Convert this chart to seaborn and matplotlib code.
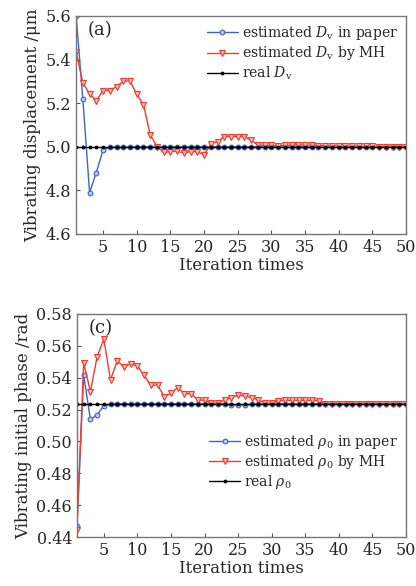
import numpy as np
import pandas as pd
import matplotlib
matplotlib.use("Agg")
import matplotlib.pyplot as plt
import seaborn as sns

iters = list(range(1, 51))

dv_paper = [5.600, 5.218, 4.790, 4.882, 4.985, 4.997, 4.999, 4.998, 4.999, 5.000,
            4.999, 5.000, 4.999, 5.000, 5.000, 5.000, 4.999, 5.000, 5.000, 5.000,
            5.000, 5.000, 5.000, 5.000, 5.000, 5.000, 5.000, 5.000, 5.000, 5.000,
            5.000, 4.999, 5.000, 5.000, 5.000, 4.999, 5.000, 5.000, 5.000, 5.000,
            5.000, 5.000, 5.000, 5.000, 5.000, 5.000, 5.000, 5.000, 5.000, 5.000]
dv_mh = [5.436, 5.294, 5.243, 5.212, 5.258, 5.258, 5.276, 5.300, 5.303, 5.241,
         5.194, 5.056, 5.001, 4.974, 4.978, 4.980, 4.971, 4.978, 4.978, 4.963,
         5.012, 5.024, 5.047, 5.047, 5.047, 5.047, 5.029, 5.009, 5.006, 5.006,
         5.005, 5.007, 5.008, 5.008, 5.008, 5.007, 5.005, 5.004, 5.004, 5.003,
         5.003, 5.003, 5.002, 5.002, 5.002, 5.001, 5.001, 5.001, 5.001, 5.001]
dv_real = [5.0] * 50

rho_paper = [0.4471, 0.5417, 0.5138, 0.5167, 0.5224, 0.5232, 0.5236, 0.5236, 0.5236, 0.5236,
             0.5236, 0.5236, 0.5236, 0.5236, 0.5236, 0.5236, 0.5236, 0.5236, 0.5236, 0.5236,
             0.5236, 0.5236, 0.5234, 0.5230, 0.5229, 0.5230, 0.5232, 0.5235, 0.5236, 0.5236,
             0.5236, 0.5236, 0.5236, 0.5236, 0.5236, 0.5236, 0.5236, 0.5236, 0.5236, 0.5236,
             0.5236, 0.5236, 0.5236, 0.5236, 0.5236, 0.5236, 0.5236, 0.5236, 0.5236, 0.5236]
rho_mh = [0.4444, 0.5495, 0.5312, 0.5531, 0.5642, 0.5386, 0.5506, 0.5468, 0.5487, 0.5474,
          0.5415, 0.5352, 0.5354, 0.5281, 0.5302, 0.5338, 0.5300, 0.5300, 0.5260, 0.5258,
          0.5240, 0.5240, 0.5260, 0.5275, 0.5290, 0.5285, 0.5275, 0.5260, 0.5240, 0.5240,
          0.5255, 0.5258, 0.5258, 0.5258, 0.5258, 0.5258, 0.5256, 0.5238, 0.5238, 0.5237,
          0.5237, 0.5237, 0.5236, 0.5236, 0.5236, 0.5236, 0.5236, 0.5236, 0.5236, 0.5236]
rho_real = [0.5236] * 50

xticks = [5, 10, 15, 20, 25, 30, 35, 40, 45, 50]
yticks_a = [4.6, 4.8, 5.0, 5.2, 5.4, 5.6]
yticks_c = [0.44, 0.46, 0.48, 0.50, 0.52, 0.54, 0.56, 0.58]

sns.set_style("ticks")
plt.rcParams['font.family'] = ['DejaVu Serif']
plt.rcParams['mathtext.fontset'] = 'dejavuserif'

BLUE = '#3f63c8'
BLUE_FACE = '#b9c8ee'
RED = '#f23a2c'
RED_FACE = '#fbb7b0'

fig = plt.figure(figsize=(4.16, 5.86), dpi=100)
ax1 = fig.add_axes([0.183, 0.6007, 0.793, 0.372])
ax2 = fig.add_axes([0.185, 0.0836, 0.791, 0.3806])


def draw(ax, paper, mh, real, labels, ylim, yticks, yfmt, ylabel, tag, legloc, anchor):
    df = pd.DataFrame({'it': iters, 'paper': paper, 'mh': mh, 'real': real})
    sns.lineplot(data=df, x='it', y='paper', ax=ax, color=BLUE, lw=1.0, marker='o',
                 markersize=3.4, markerfacecolor=BLUE_FACE, markeredgecolor=BLUE,
                 markeredgewidth=0.8, label=labels[0])
    sns.lineplot(data=df, x='it', y='mh', ax=ax, color=RED, lw=1.0, marker='v',
                 markersize=4.2, markerfacecolor=RED_FACE, markeredgecolor=RED,
                 markeredgewidth=0.8, label=labels[1])
    sns.lineplot(data=df, x='it', y='real', ax=ax, color='black', lw=1.0, marker='o',
                 markersize=2.0, markerfacecolor='black', markeredgecolor='black',
                 label=labels[2])
    ax.set_xlim(1, 50)
    ax.set_ylim(*ylim)
    ax.set_xticks(xticks)
    ax.set_yticks(yticks)
    ax.set_yticklabels([yfmt.format(v) for v in yticks])
    ax.tick_params(direction='in', length=3, labelsize=11.5, color='#555555')
    ax.set_xlabel('Iteration times', fontsize=12, labelpad=1)
    ax.set_ylabel(ylabel, fontsize=12, labelpad=3)
    for s in ax.spines.values():
        s.set_color('#777777')
        s.set_linewidth(1.0)
    ax.text(0.035, 0.975, tag, transform=ax.transAxes, fontsize=13, va='top', ha='left')
    ax.legend(loc=legloc, bbox_to_anchor=anchor, frameon=False, fontsize=10,
              handlelength=2.2, handletextpad=0.3, labelspacing=0.15,
              borderaxespad=0.2)


draw(ax1, dv_paper, dv_mh, dv_real,
     [r'estimated $D_\mathrm{v}$ in paper', r'estimated $D_\mathrm{v}$ by MH', r'real $D_\mathrm{v}$'],
     (4.6, 5.6), yticks_a, '{:.1f}', r'Vibrating displacement /μm', '(a)',
     'upper right', (1.0, 1.0))
draw(ax2, rho_paper, rho_mh, rho_real,
     [r'estimated $\rho_0$ in paper', r'estimated $\rho_0$ by MH', r'real $\rho_0$'],
     (0.44, 0.58), yticks_c, '{:.2f}', r'Vibrating initial phase /rad', '(c)',
     'lower right', (1.0, 0.17))

fig.savefig('out.png', dpi=100)
